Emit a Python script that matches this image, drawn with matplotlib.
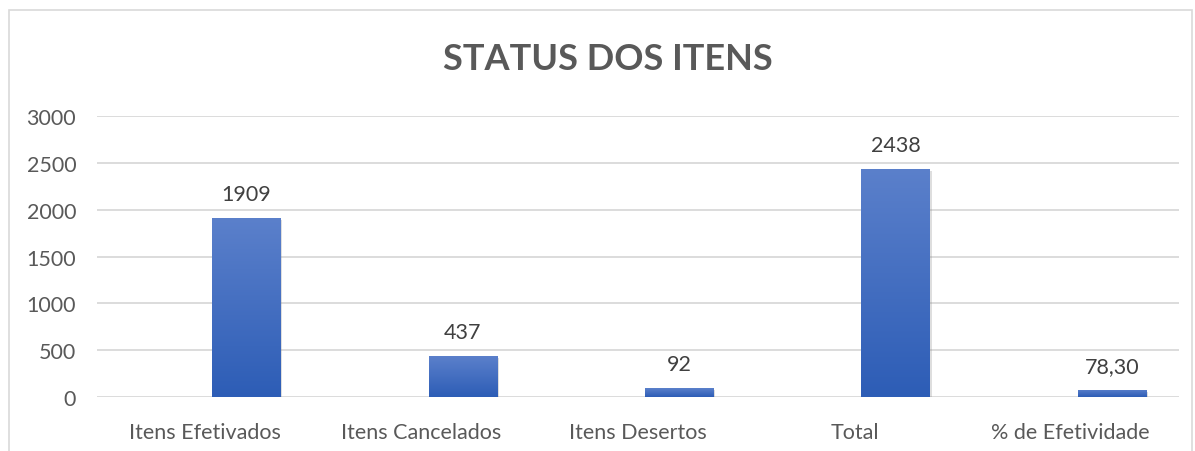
import matplotlib.pyplot as plt
import matplotlib.patheffects as pe
from matplotlib.colors import LinearSegmentedColormap
from matplotlib.patches import Rectangle
import numpy as np

categories = ["Itens Efetivados", "Itens Cancelados", "Itens Desertos", "Total", "% de Efetividade"]
values = [1909, 437, 92, 2438, 78.30]
value_labels = ["1909", "437", "92", "2438", "78,30"]
yticks = [0, 500, 1000, 1500, 2000, 2500, 3000]

plt.rcParams['font.family'] = ['Lato', 'DejaVu Sans']
text_color = '#595959'

fig = plt.figure(figsize=(11.95, 4.52), dpi=100)
# chart border
fig.patches.append(Rectangle((9 / 1195, -0.05), 1183 / 1195, 1 - 11 / 452 + 0.05,
                             transform=fig.transFigure, fill=False,
                             edgecolor='#d9d9d9', linewidth=1.2))

ax = fig.add_axes([97 / 1195, (452 - 398) / 452, (1179 - 97) / 1195, (398 - 117) / 452])

x = np.arange(len(categories))
offset = 0.19
width = 0.315
bars = ax.bar(x + offset, values, width=width, color='#4472c4', zorder=3,
              path_effects=[pe.SimplePatchShadow(offset=(1.5, -1.5), alpha=0.25, shadow_rgbFace='#7f7f7f'), pe.Normal()])

# vertical gradient fill for each bar
cmap = LinearSegmentedColormap.from_list('bar', ['#2d5db6', '#5b80cb'])
grad = np.linspace(0, 1, 256).reshape(-1, 1)
for b in bars:
    bx, by = b.get_x(), b.get_y()
    im = ax.imshow(grad, cmap=cmap, origin='lower', aspect='auto', zorder=4,
                   extent=[bx, bx + b.get_width(), by, by + b.get_height()])
    im.set_clip_path(b)

for xi, v, lab in zip(x, values, value_labels):
    ax.annotate(lab, (xi + offset, v), xytext=(0, 10), textcoords='offset points',
                ha='center', va='bottom', fontsize=15.5, color='#404040')

ax.set_xlim(-0.5, len(categories) - 0.5)
ax.set_ylim(0, 3000)
ax.set_yticks(yticks)
ax.set_xticks(x)
ax.set_xticklabels(categories)
ax.tick_params(axis='both', length=0, labelsize=15.5, labelcolor=text_color)
ax.tick_params(axis='y', pad=15)
ax.tick_params(axis='x', pad=18)
ax.yaxis.grid(True, color='#d9d9d9', linewidth=1.3, zorder=0)
for s in ax.spines.values():
    s.set_visible(False)
ax.set_facecolor('none')

fig.text(608 / 1195, 1 - 59 / 452, "STATUS DOS ITENS", ha='center', va='center',
         fontsize=26, fontweight='bold', color=text_color)

fig.savefig("out.png", dpi=100)
